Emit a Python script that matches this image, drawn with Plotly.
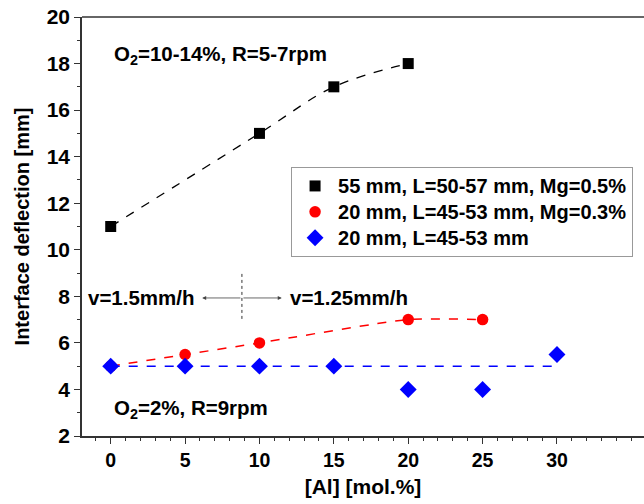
import plotly.graph_objects as go

# Interface deflection vs Al content
al_black = [0, 10, 15, 20]
defl_black = [11, 15, 17, 18]

al_red = [0, 5, 10, 20, 25]
defl_red = [5, 5.5, 6, 7, 7]

al_blue = [0, 5, 10, 15, 20, 25, 30]
defl_blue = [5, 5, 5, 5, 4, 4, 5.5]

# mean level drawn as dashed guide for the blue series
al_blue_fit = [0, 30]
defl_blue_fit = [5, 5]

names = ["55 mm, L=50-57 mm, Mg=0.5%",
         "20 mm, L=45-53 mm, Mg=0.3%",
         "20 mm, L=45-53 mm"]

x_ticks = [0, 5, 10, 15, 20, 25, 30]
y_ticks = [2, 4, 6, 8, 10, 12, 14, 16, 18, 20]

FONT = "Liberation Sans, Arial, sans-serif"


def b(s):
    return f"<b>{s}</b>"


def legend_label(s):
    # larger glyphs than the legend's row spacing font
    return f'<span style="font-size:20px"><b>{s}</b></span>'


fig = go.Figure()

fig.add_trace(go.Scatter(x=al_black, y=defl_black, mode="lines", showlegend=False,
                         line=dict(color="black", dash="dash", width=1.3, shape="spline", smoothing=1.0),
                         hoverinfo="skip"))
fig.add_trace(go.Scatter(x=al_red, y=defl_red, mode="lines", showlegend=False,
                         line=dict(color="red", dash="dash", width=1.5, shape="spline", smoothing=0.6),
                         hoverinfo="skip"))
fig.add_trace(go.Scatter(x=al_blue_fit, y=defl_blue_fit, mode="lines", showlegend=False,
                         line=dict(color="blue", dash="dash", width=1.5), hoverinfo="skip"))

fig.add_trace(go.Scatter(x=al_black, y=defl_black, mode="markers", name=legend_label(names[0]),
                         marker=dict(symbol="square", size=11, color="black")))
fig.add_trace(go.Scatter(x=al_red, y=defl_red, mode="markers", name=legend_label(names[1]),
                         marker=dict(symbol="circle", size=11.5, color="red")))
fig.add_trace(go.Scatter(x=al_blue, y=defl_blue, mode="markers", name=legend_label(names[2]),
                         marker=dict(symbol="diamond", size=13, color="blue")))

axis_common = dict(
    showline=True, linecolor="#333", linewidth=1.5,
    ticks="outside", ticklen=6, tickwidth=1.2, tickcolor="#333",
    showgrid=False, zeroline=False,
)

fig.update_xaxes(range=[-1.93, 35.85], tickvals=x_ticks, ticktext=[b(v) for v in x_ticks],
                 tickfont=dict(family=FONT, size=19.5, color="black"),
                 minor=dict(dtick=1, tick0=0, ticks="outside", ticklen=3, tickcolor="#333"),
                 title=dict(text=b("[Al] [mol.%]"), standoff=9,
                            font=dict(family=FONT, size=21, color="black")),
                 **axis_common)
fig.update_yaxes(range=[2, 20], tickvals=y_ticks, ticktext=[b(v) for v in y_ticks],
                 tickfont=dict(family=FONT, size=21, color="black"),
                 minor=dict(dtick=1, ticks="outside", ticklen=3, tickcolor="#333"),
                 title=dict(text=b("Interface deflection [mm]"), standoff=12,
                            font=dict(family=FONT, size=20, color="black")),
                 **axis_common)

# top frame line (plot continues past the right edge)
fig.add_shape(type="line", xref="paper", yref="paper", x0=0, x1=1, y0=1, y1=1,
              line=dict(color="#333", width=1.5))

# speed change marker
fig.add_shape(type="line", x0=8.82, x1=8.82, y0=7.03, y1=9.0,
              line=dict(color="#333", width=1, dash="dot"))

txt_font = dict(family=FONT, size=20.5, color="black")
fig.add_annotation(x=6.15, y=7.93, ax=8.82, ay=7.93, axref="x", ayref="y",
                   text="", showarrow=True, arrowhead=2, arrowsize=1, arrowwidth=0.8,
                   arrowcolor="#444")
fig.add_annotation(x=11.5, y=7.93, ax=8.82, ay=7.93, axref="x", ayref="y",
                   text="", showarrow=True, arrowhead=2, arrowsize=1, arrowwidth=0.8,
                   arrowcolor="#444")
fig.add_annotation(x=5.8, y=7.93, text=b("v=1.5mm/h"), showarrow=False,
                   xanchor="right", yanchor="middle", font=txt_font)
fig.add_annotation(x=11.9, y=7.93, text=b("v=1.25mm/h"), showarrow=False,
                   xanchor="left", yanchor="middle", font=txt_font)

fig.add_annotation(x=0.1, y=18.35, text=b("O<sub>2</sub>=10-14%, R=5-7rpm"), showarrow=False,
                   xanchor="left", yanchor="middle", font=txt_font)
fig.add_annotation(x=0.1, y=3.15, text=b("O<sub>2</sub>=2%, R=9rpm"), showarrow=False,
                   xanchor="left", yanchor="middle", font=txt_font)

fig.update_layout(
    width=644, height=504,
    margin=dict(l=82, r=0, t=17, b=68),
    paper_bgcolor="white", plot_bgcolor="white",
    legend=dict(x=0.372, y=0.642, xanchor="left", yanchor="top",
                bgcolor="white", bordercolor="#999", borderwidth=1,
                font=dict(family=FONT, size=17.6, color="black"),
                itemwidth=36, tracegroupgap=0),
    showlegend=True,
)

fig.write_html("out.html")
